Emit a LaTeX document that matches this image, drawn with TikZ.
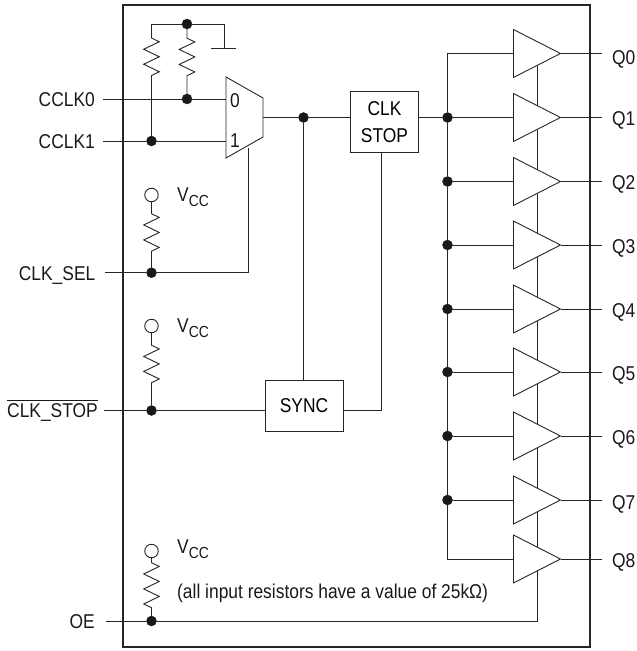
\documentclass[tikz,border=0pt]{standalone}
\usepackage{amsmath}
\usepackage{fontspec}
\setmainfont[FakeStretch=.87]{Liberation Sans}
\usetikzlibrary{shapes.geometric,decorations.pathmorphing}
\newcommand{\vccname}{V\raisebox{-4.5pt}{\fontsize{16}{16}\selectfont CC}}
\tikzset{
  wire/.style={draw=black!85,line width=.9pt},
  dot/.style={circle,draw=black!90,fill=black!90,inner sep=0pt,minimum size=10pt},
  vcc/.style={circle,draw=black!85,fill=white,line width=.9pt,inner sep=0pt,minimum size=13.5pt},
  block/.style={rectangle,draw=black!85,line width=.9pt,inner sep=0pt,align=center},
  buffer/.style={isosceles triangle,isosceles triangle apex angle=54,isosceles triangle stretches,
    draw=black!85,fill=white,line width=.9pt,inner sep=0pt,minimum width=48pt,minimum height=47pt,anchor=lower side},
  lbl/.style={text=black!90,inner sep=0pt},
  res/.style n args={2}{wire,decorate,decoration={zigzag,segment length=15pt,amplitude=7.8pt,
    pre=lineto,pre length=#1,post=lineto,post length=#2}}
}
\begin{document}
\begin{tikzpicture}[x=1pt,y=-1pt,font=\fontsize{20}{27}\selectfont]
\useasboundingbox (0,0) rectangle (637,651);
\node at (356.5,326) [rectangle,draw=black!85,line width=2.3pt,minimum width=467pt,minimum height=642pt] (Chip) {};
% inputs
\coordinate (InCclk0) at (103,99);
\coordinate (InCclk1) at (103,141);
\coordinate (InSel) at (105,272.7);
\coordinate (InStop) at (104,410.5);
\coordinate (InOe) at (106,621);
\node at (95,100) [lbl,anchor=east] (LblCclk0) {CCLK0};
\node at (95,142) [lbl,anchor=east] (LblCclk1) {CCLK1};
\node at (95.5,276) [lbl,anchor=east] (LblSel) {CLK\_SEL};
\node at (98,410) [lbl,anchor=east] (LblStop) {$\overline{\text{CLK\_STOP}}$};
\node at (95,622) [lbl,anchor=east] (LblOe) {OE};
% multiplexer
\coordinate (MuxA) at (226,77);
\coordinate (MuxB) at (263,98);
\coordinate (MuxC) at (263,137);
\coordinate (MuxD) at (226,158);
\coordinate (MuxIn0) at (226,99);
\coordinate (MuxIn1) at (226,141);
\coordinate (MuxOut) at (263,117.5);
\coordinate (MuxSel) at (248.5,148);
\draw [wire] (MuxA) -- (MuxB) -- (MuxC) -- (MuxD) -- cycle;
\node at (235,100.5) [lbl] (Lbl0) {0};
\node at (235,141) [lbl] (Lbl1) {1};
% dots
\node at (187,24) [dot] (DotTop) {};
\node at (187,99) [dot] (Dot0) {};
\node at (151.5,141) [dot] (Dot1) {};
\node at (151.5,272.7) [dot] (DotSel) {};
\node at (151.5,410.5) [dot] (DotStop) {};
\node at (151.5,621) [dot] (DotOe) {};
\node at (303.5,117.5) [dot] (DotClk) {};
\node at (447.5,117.5) [dot] (Bus1) {};
\node at (447.5,181.5) [dot] (Bus2) {};
\node at (447.5,245) [dot] (Bus3) {};
\node at (447.5,309) [dot] (Bus4) {};
\node at (447.5,372) [dot] (Bus5) {};
\node at (447.5,436) [dot] (Bus6) {};
\node at (447.5,500) [dot] (Bus7) {};
% pull up and ground
\coordinate (TopLeft) at (151.5,24);
\coordinate (TopRight) at (224,24);
\coordinate (GndTop) at (224,48);
\coordinate (GndLeft) at (211,48);
\coordinate (GndRight) at (236,48);
\draw [wire] (TopLeft) -- (DotTop) -- (TopRight) -- (GndTop);
\draw [wire] (GndLeft) -- (GndRight);
\draw [res={14pt}{53pt}] (TopLeft) -- (Dot1);
\draw [res={9pt}{11pt}] (DotTop) -- (Dot0);
\node at (151.5,195) [vcc] (Vcc1) {};
\node at (151.5,326) [vcc] (Vcc2) {};
\node at (151.5,551) [vcc] (Vcc3) {};
\draw [res={11.5pt}{9.5pt}] (Vcc1) -- (DotSel);
\draw [res={12pt}{15.7pt}] (Vcc2) -- (DotStop);
\draw [res={4.5pt}{8pt}] (Vcc3) -- (DotOe);
\node at (177,197) [lbl,anchor=west] (LblVcc1) {\vccname};
\node at (177,328) [lbl,anchor=west] (LblVcc2) {\vccname};
\node at (177,549) [lbl,anchor=west] (LblVcc3) {\vccname};
\node at (177,593) [lbl,anchor=west] (LblNote) {(all input resistors have a value of 25kΩ)};
% input wires
\draw [wire] (InCclk0) -- (Dot0) -- (MuxIn0);
\draw [wire] (InCclk1) -- (Dot1) -- (MuxIn1);
\draw [wire] (InSel) -- (DotSel) -| (MuxSel);
\draw [wire] (InStop) -- (DotStop);
\draw [wire] (MuxOut) -- (DotClk);
% clock stop
\node at (384.5,122) [block,minimum width=67.5pt,minimum height=61.5pt] (ClkStop) {CLK\\STOP};
\node at (304,405.5) [block,minimum width=78pt,minimum height=51pt] (Sync) {SYNC};
\coordinate (ClkOut) at (381,152.7);
\draw [wire] (DotClk) -- (ClkStop.west |- DotClk);
\draw [wire] (DotClk) -- (DotClk |- Sync.north);
\draw [wire] (DotStop) -- (Sync.west |- DotStop);
\draw [wire] (ClkOut) |- (Sync.east |- DotStop);
\draw [wire] (ClkStop.east |- DotClk) -- (Bus1);
% enable line, behind the buffers
\coordinate (EnTop) at (537,54);
\coordinate (EnBottom) at (537,621);
\draw [wire] (DotOe) -- (InOe);
\draw [wire] (DotOe) -- (EnBottom) -- (EnTop);
% buffers
\node at (513,53.5) [buffer] (Buf0) {};
\node at (513,117.5) [buffer] (Buf1) {};
\node at (513,181.5) [buffer] (Buf2) {};
\node at (513,245) [buffer] (Buf3) {};
\node at (513,309) [buffer] (Buf4) {};
\node at (513,372) [buffer] (Buf5) {};
\node at (513,436) [buffer] (Buf6) {};
\node at (513,500) [buffer] (Buf7) {};
\node at (513,559) [buffer] (Buf8) {};
\draw [wire] (Buf0.lower side) -| (Bus1);
\draw [wire] (Bus1) -- (Buf1.lower side);
\draw [wire] (Bus2) -- (Buf2.lower side);
\draw [wire] (Bus3) -- (Buf3.lower side);
\draw [wire] (Bus4) -- (Buf4.lower side);
\draw [wire] (Bus5) -- (Buf5.lower side);
\draw [wire] (Bus6) -- (Buf6.lower side);
\draw [wire] (Bus7) -- (Buf7.lower side);
\draw [wire] (Buf8.lower side) -| (Bus7);
\draw [wire] (Bus1) -- (Bus2);
\draw [wire] (Bus2) -- (Bus3);
\draw [wire] (Bus3) -- (Bus4);
\draw [wire] (Bus4) -- (Bus5);
\draw [wire] (Bus5) -- (Bus6);
\draw [wire] (Bus6) -- (Bus7);
% outputs
\node at (612,59.5) [lbl,anchor=west] (Q0) {Q0};
\node at (612,120.5) [lbl,anchor=west] (Q1) {Q1};
\node at (612,184) [lbl,anchor=west] (Q2) {Q2};
\node at (612,248) [lbl,anchor=west] (Q3) {Q3};
\node at (612,312) [lbl,anchor=west] (Q4) {Q4};
\node at (612,375) [lbl,anchor=west] (Q5) {Q5};
\node at (612,439) [lbl,anchor=west] (Q6) {Q6};
\node at (612,504) [lbl,anchor=west] (Q7) {Q7};
\node at (612,562) [lbl,anchor=west] (Q8) {Q8};
\coordinate (Out0) at (602,53.5);
\coordinate (Out1) at (602,117.5);
\coordinate (Out2) at (602,181.5);
\coordinate (Out3) at (602,245);
\coordinate (Out4) at (602,309);
\coordinate (Out5) at (602,372);
\coordinate (Out6) at (602,436);
\coordinate (Out7) at (602,500);
\coordinate (Out8) at (602,559);
\draw [wire] (Buf0.apex) -- (Out0);
\draw [wire] (Buf1.apex) -- (Out1);
\draw [wire] (Buf2.apex) -- (Out2);
\draw [wire] (Buf3.apex) -- (Out3);
\draw [wire] (Buf4.apex) -- (Out4);
\draw [wire] (Buf5.apex) -- (Out5);
\draw [wire] (Buf6.apex) -- (Out6);
\draw [wire] (Buf7.apex) -- (Out7);
\draw [wire] (Buf8.apex) -- (Out8);
\end{tikzpicture}
\end{document}
